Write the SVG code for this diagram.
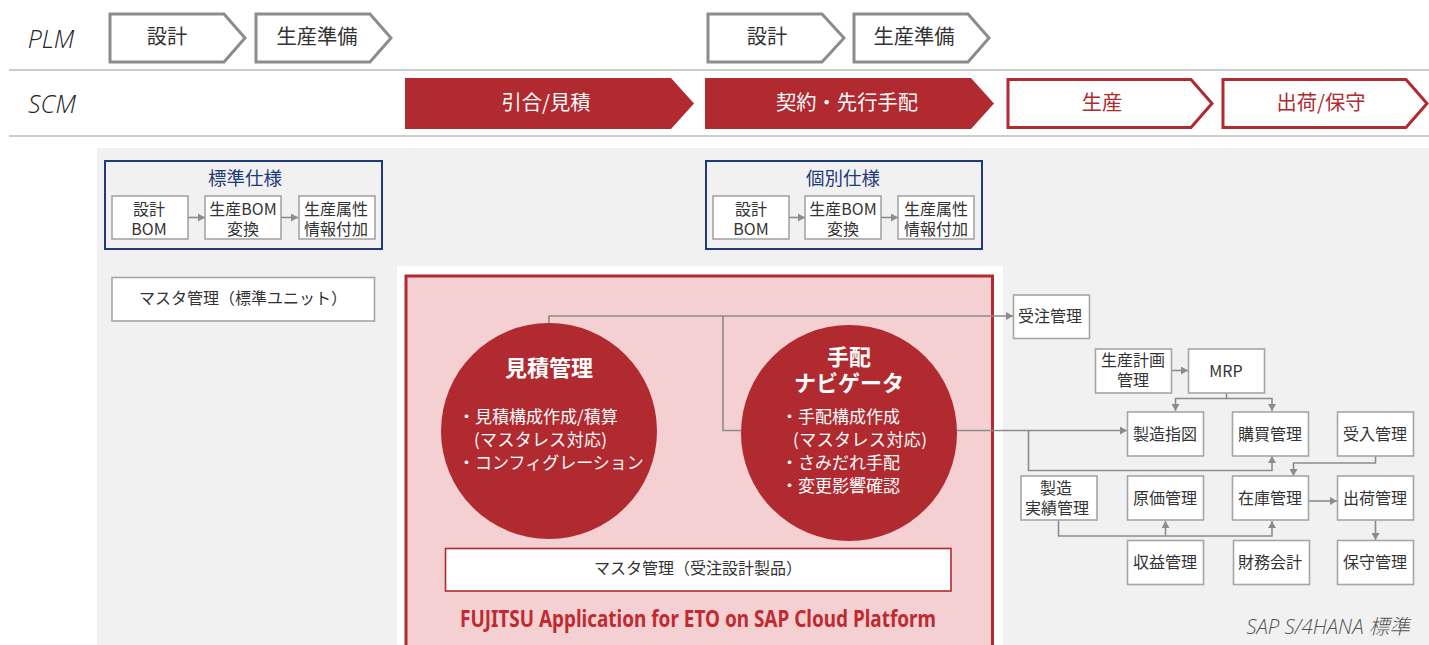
<svg xmlns="http://www.w3.org/2000/svg" width="1429" height="645" viewBox="0 0 1429 645">
<style>
text{font-family:"Noto Sans CJK JP","Noto Sans",sans-serif;fill:#333;text-anchor:middle}
.lat{font-family:"Open Sans","Noto Sans CJK JP",sans-serif;font-style:italic;font-weight:300;font-size:25px;fill:#222}
.pg{fill:#fff;stroke:#8c8c8c;stroke-width:3}
.pr{fill:#fff;stroke:#b02a30;stroke-width:3}
.pf{fill:#b02a30}
.t20{font-size:20.300px}
.tw{fill:#fff}
.tr{fill:#b02a30}
.blue{fill:none;stroke:#1f3a78;stroke-width:2}
.tb{font-size:18.500px;fill:#1f3a78}
.b{fill:#fff;stroke:#a6a6a6;stroke-width:1.600}
.t16{font-size:16px}
.h{font-size:22px;font-weight:700;fill:#fff}
.s{font-size:17px;fill:#fff;text-anchor:start}
.c{fill:none;stroke:#8c8c8c;stroke-width:1.600}
.d{fill:#8c8c8c}
</style>
<defs>
<marker id="a" markerUnits="userSpaceOnUse" markerWidth="8" markerHeight="8" refX="7" refY="4" orient="auto"><path class="d" d="M0,0L7,4L0,8z"/></marker>
</defs>
<rect width="1429" height="645" fill="#fff"/>
<g id="rows">
<path d="M9,70H1429M9,136H1429" fill="none" stroke="#bdbdbd" stroke-width="1.600"/>
<text class="lat" x="51" y="48">PLM</text>
<text class="lat" x="52" y="113">SCM</text>
</g>
<g id="panels">
<rect x="97" y="148" width="1332" height="497" fill="#f1f1f1"/>
<rect x="397" y="266" width="606" height="379" fill="#fff"/>
<path d="M406,645V276H992.500V645" fill="#f4d0d3" stroke="#b02a30" stroke-width="3"/>
<text x="1328" y="634" style="font-family:'Open Sans','Noto Sans CJK JP',sans-serif;font-style:italic;font-weight:300;font-size:20.500px;fill:#555">SAP S/4HANA 標準</text>
</g>
<g id="plm-design-1"><path class="pg" d="M110,14H224L245,38L224,62H110z"/><text class="t20" x="167" y="44">設計</text></g>
<g id="plm-prep-1"><path class="pg" d="M256,14H370L391,38L370,62H256z"/><text class="t20" x="317" y="44">生産準備</text></g>
<g id="plm-design-2"><path class="pg" d="M708,14H822L844,38L822,62H708z"/><text class="t20" x="767" y="44">設計</text></g>
<g id="plm-prep-2"><path class="pg" d="M854,14H968L989,38L968,62H854z"/><text class="t20" x="914" y="44">生産準備</text></g>
<g id="scm-quote"><path class="pf" d="M405,78H671L694,103.500L671,129H405z"/><text class="t20 tw" x="546" y="110">引合/見積</text></g>
<g id="scm-contract"><path class="pf" d="M705,78H971L994,103.500L971,129H705z"/><text class="t20 tw" x="847" y="110">契約・先行手配</text></g>
<g id="scm-production"><path class="pr" d="M1008,79.500H1191L1212,103.500L1191,127.500H1008z"/><text class="t20 tr" x="1102" y="110">生産</text></g>
<g id="scm-shipping"><path class="pr" d="M1223,79.500H1406L1427,103.500L1406,127.500H1223z"/><text class="t20 tr" x="1321" y="110">出荷/保守</text></g>
<g id="standard-spec">
<rect class="blue" x="105" y="161" width="277" height="88"/>
<text class="tb" x="245" y="185">標準仕様</text>
</g>
<g id="custom-spec">
<rect class="blue" x="706" y="161" width="276" height="88"/>
<text class="tb" x="843" y="185">個別仕様</text>
</g>
<g id="std-bom"><rect class="b" x="112" y="196" width="76" height="43"/><text class="t16" x="149" y="215">設計</text><text class="t16" x="149" y="235">BOM</text></g>
<g id="std-conv"><rect class="b" x="205" y="196" width="76" height="43"/><text class="t16" x="243" y="215">生産BOM</text><text class="t16" x="243" y="235">変換</text></g>
<g id="std-attr"><rect class="b" x="299" y="196" width="76" height="43"/><text class="t16" x="336" y="215">生産属性</text><text class="t16" x="336" y="235">情報付加</text></g>
<g id="cus-bom"><rect class="b" x="713" y="196" width="76" height="43"/><text class="t16" x="751" y="215">設計</text><text class="t16" x="751" y="235">BOM</text></g>
<g id="cus-conv"><rect class="b" x="805" y="196" width="76" height="43"/><text class="t16" x="843" y="215">生産BOM</text><text class="t16" x="843" y="235">変換</text></g>
<g id="cus-attr"><rect class="b" x="898" y="196" width="76" height="43"/><text class="t16" x="936" y="215">生産属性</text><text class="t16" x="936" y="235">情報付加</text></g>
<g id="master-std"><rect class="b" x="112" y="277.500" width="262.500" height="43.500"/><text class="t16" x="243" y="304">マスタ管理（標準ユニット）</text></g>
<g id="connectors">
<path class="c" marker-end="url(#a)" d="M188,217.500H205"/>
<path class="c" marker-end="url(#a)" d="M281,217.500H298"/>
<path class="c" marker-end="url(#a)" d="M789,217.500H805"/>
<path class="c" marker-end="url(#a)" d="M881,217.500H898"/>
<path class="c" marker-end="url(#a)" d="M549,323V316H1013"/>
<path class="c" d="M723,316V430.500H741"/>
<path class="c" marker-end="url(#a)" d="M957,430.500H1127"/>
<path class="c" marker-end="url(#a)" d="M1028.500,430.500V470.500H1272V456"/>
<path class="c" marker-end="url(#a)" d="M1171.500,370.500H1188"/>
<path class="c" marker-end="url(#a)" d="M1226.500,393V398.500H1175.500V411"/>
<path class="c" marker-end="url(#a)" d="M1226.500,398.500H1272V411"/>
<path class="c" marker-end="url(#a)" d="M1375.500,456V463H1293.500V476"/>
<path class="c" marker-end="url(#a)" d="M1308.500,501H1337"/>
<path class="c" marker-end="url(#a)" d="M1375.500,520V540"/>
<path class="c" marker-end="url(#a)" d="M1058.500,520V536H1272V521"/>
<path class="c" marker-end="url(#a)" d="M1165.500,536V521"/>
</g>
<g id="estimate"><circle cx="549" cy="431" r="108" class="pf"/>
<text class="h" x="549" y="376">見積管理</text>
<text class="s" x="458" y="423">・見積構成作成/積算</text>
<text class="s" x="474" y="446" textLength="133">(マスタレス対応)</text>
<text class="s" x="458" y="469">・コンフィグレーション</text></g>
<g id="navigator"><circle cx="849" cy="433" r="108" class="pf"/>
<text class="h" x="849" y="365">手配</text>
<text class="h" x="849" y="391">ナビゲータ</text>
<text class="s" x="781" y="423">・手配構成作成</text>
<text class="s" x="793" y="446" textLength="134">(マスタレス対応)</text>
<text class="s" x="781" y="469">・さみだれ手配</text>
<text class="s" x="781" y="492">・変更影響確認</text></g>
<g id="master-eto"><rect x="445.500" y="548.500" width="505.500" height="42.500" fill="#fff" stroke="#b02a30" stroke-width="1.600"/><text class="t16" x="698" y="574">マスタ管理（受注設計製品）</text></g>
<text id="app-title" x="698" y="627" font-size="23" font-weight="700" textLength="476" lengthAdjust="spacingAndGlyphs" style="font-family:'Noto Sans',sans-serif;fill:#c02a30">FUJITSU Application for ETO on SAP Cloud Platform</text>
<g id="order"><rect class="b" x="1013.500" y="295" width="76" height="43.500"/><text class="t16" x="1050" y="322">受注管理</text></g>
<g id="plan"><rect class="b" x="1095.500" y="349" width="76" height="44"/><text class="t16" x="1133" y="366">生産計画</text><text class="t16" x="1133" y="386">管理</text></g>
<g id="mrp"><rect class="b" x="1188.500" y="349" width="76" height="44"/><text class="t16" x="1226" y="377">MRP</text></g>
<g id="mfg-order"><rect class="b" x="1127.500" y="412" width="76" height="44"/><text class="t16" x="1165" y="440">製造指図</text></g>
<g id="purchase"><rect class="b" x="1232.500" y="412" width="76" height="44"/><text class="t16" x="1270" y="440">購買管理</text></g>
<g id="receive"><rect class="b" x="1337.500" y="412" width="76" height="44"/><text class="t16" x="1375" y="440">受入管理</text></g>
<g id="actuals"><rect class="b" x="1021" y="476" width="76" height="44"/><text class="t16" x="1056" y="494">製造</text><text class="t16" x="1057" y="514">実績管理</text></g>
<g id="cost"><rect class="b" x="1127.500" y="476" width="76" height="44"/><text class="t16" x="1165" y="504">原価管理</text></g>
<g id="stock"><rect class="b" x="1232.500" y="476" width="76" height="44"/><text class="t16" x="1270" y="504">在庫管理</text></g>
<g id="ship"><rect class="b" x="1337.500" y="476" width="76" height="44"/><text class="t16" x="1375" y="504">出荷管理</text></g>
<g id="profit"><rect class="b" x="1127.500" y="540.500" width="76" height="44"/><text class="t16" x="1165" y="568">収益管理</text></g>
<g id="finance"><rect class="b" x="1233.500" y="540.500" width="76" height="44"/><text class="t16" x="1270" y="568">財務会計</text></g>
<g id="service"><rect class="b" x="1337.500" y="540.500" width="76" height="44"/><text class="t16" x="1375" y="568">保守管理</text></g>
</svg>
